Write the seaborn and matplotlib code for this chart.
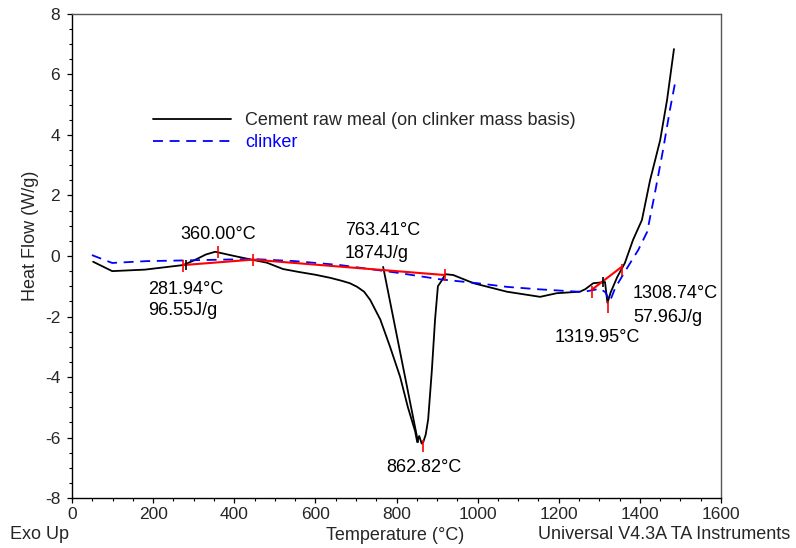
import matplotlib
matplotlib.use("Agg")
import matplotlib.pyplot as plt
from matplotlib.ticker import MultipleLocator
from matplotlib.lines import Line2D
import seaborn as sns
import pandas as pd

# cement raw meal (on clinker mass basis), black curve
raw_T = [52, 99, 180, 274, 300, 330, 353, 400, 446, 480, 520, 560, 600, 636, 665, 685,
         703, 720, 735, 760, 784, 809, 828, 846, 851, 856, 862, 866, 872, 878, 887,
         895, 902, 912, 920, 940, 990, 1072, 1154, 1195, 1252, 1265, 1285, 1300, 1314,
         1320, 1328, 1344, 1363, 1383, 1405, 1425, 1450, 1467, 1484]
raw_H = [-0.19, -0.5, -0.45, -0.3, -0.15, 0.05, 0.14, 0.0, -0.13, -0.22, -0.43, -0.53,
         -0.62, -0.72, -0.82, -0.9, -1.02, -1.18, -1.45, -2.1, -3.0, -4.0, -5.0, -5.8,
         -6.15, -5.95, -6.2, -6.15, -5.9, -5.4, -3.8, -2.1, -1.0, -0.8, -0.6, -0.63,
         -0.9, -1.18, -1.35, -1.23, -1.18, -1.1, -0.9, -0.88, -0.86, -1.55, -1.2, -0.7,
         -0.23, 0.53, 1.19, 2.5, 3.83, 5.16, 6.84]

# clinker, blue dashed curve
clk_T = [49, 99, 183, 300, 446, 550, 661, 800, 907, 1000, 1072, 1150, 1260, 1302,
         1315, 1326, 1339, 1366, 1396, 1418, 1437, 1457, 1474, 1489]
clk_H = [0.03, -0.23, -0.17, -0.14, -0.1, -0.17, -0.3, -0.55, -0.77, -0.9, -1.02,
         -1.1, -1.19, -1.08, -1.2, -1.5, -1.06, -0.45, 0.2, 0.8, 2.08, 3.5, 4.83, 5.88]

# analysis baselines / tangent (TA software overlay)
base1_T = [274, 446, 920]
base1_H = [-0.3, -0.12, -0.63]
base2_T = [1281, 1355]
base2_H = [-1.12, -0.36]
tangent_T = [767, 853]
tangent_H = [-0.36, -6.15]

red_mark_T = [274, 360, 446, 920, 866, 1281, 1355, 1322]
red_mark_H = [-0.33, 0.13, -0.13, -0.64, -6.28, -1.19, -0.45, -1.69]
black_mark_T = [282, 1308]
black_mark_H = [-0.3, -0.85]

annotations = [
    ("360.00°C", 361, 0.56, "center"),
    ("281.94°C", 187, -1.26, "left"),
    ("96.55J/g", 187, -1.95, "left"),
    ("763.41°C", 673, 0.69, "left"),
    ("1874J/g", 673, -0.07, "left"),
    ("862.82°C", 867, -7.14, "center"),
    ("1319.95°C", 1191, -2.84, "left"),
    ("1308.74°C", 1383, -1.39, "left"),
    ("57.96J/g", 1383, -2.18, "left"),
]

sns.set_style("ticks")
plt.rcParams["font.family"] = ["Liberation Sans", "DejaVu Sans"]
plt.rcParams["axes.unicode_minus"] = False

fig = plt.figure(figsize=(7.96, 5.48), dpi=100)
ax = fig.add_axes([0.0905, 0.0912, 0.8153, 0.8833])

raw = pd.DataFrame({"T": raw_T, "H": raw_H})
clk = pd.DataFrame({"T": clk_T, "H": clk_H})

sns.lineplot(data=raw, x="T", y="H", sort=False, estimator=None, color="black",
             lw=1.3, ax=ax)
sns.lineplot(data=clk, x="T", y="H", sort=False, estimator=None, color="#0000ff",
             lw=1.3, linestyle=(0, (5.5, 3.7)), ax=ax)
sns.lineplot(x=tangent_T, y=tangent_H, sort=False, estimator=None, color="black",
             lw=1.3, ax=ax)
sns.lineplot(x=base1_T, y=base1_H, sort=False, estimator=None, color="#ff0000",
             lw=1.5, ax=ax)
sns.lineplot(x=base2_T, y=base2_H, sort=False, estimator=None, color="#ff0000",
             lw=1.5, ax=ax)
ax.plot(red_mark_T, red_mark_H, ls="none", marker="|", ms=8, mew=1.2, color="#ff0000")
ax.plot(black_mark_T, black_mark_H, ls="none", marker="|", ms=7, mew=1.2, color="black")

for txt, t, h, ha in annotations:
    ax.text(t, h, txt, ha=ha, va="baseline", fontsize=13, color="black")

ax.set_xlim(0, 1600)
ax.set_ylim(-8, 8)
ax.xaxis.set_major_locator(MultipleLocator(200))
ax.xaxis.set_minor_locator(MultipleLocator(50))
ax.yaxis.set_major_locator(MultipleLocator(2))
ax.yaxis.set_minor_locator(MultipleLocator(0.5))
ax.tick_params(which="major", length=3.5, width=0.9, color="black", labelsize=12.5)
ax.tick_params(which="minor", length=2.2, width=0.8, color="black")
ax.tick_params(axis="y", which="major", pad=5)
ax.tick_params(axis="x", which="major", pad=3)

for s in ax.spines.values():
    s.set_color("#555555")
    s.set_linewidth(1.0)
ax.spines["left"].set_color("black")
ax.spines["bottom"].set_color("black")

ax.set_xlabel("Temperature (°C)", fontsize=13)
ax.xaxis.set_label_coords(0.498, -0.0764)
ax.xaxis.label.set_va("center")
ax.set_ylabel("Heat Flow (W/g)", fontsize=13)
ax.yaxis.set_label_coords(-0.064, 0.541)
ax.yaxis.label.set_va("center")

fig.text(0.0126, 0.024, "Exo Up", ha="left", va="center", fontsize=13)
fig.text(0.993, 0.024, "Universal V4.3A TA Instruments", ha="right", va="center",
         fontsize=13)

handles = [Line2D([], [], color="black", lw=1.3),
           Line2D([], [], color="#0000ff", lw=1.3, linestyle=(0, (5.5, 3.7)))]
leg = ax.legend(handles, ["Cement raw meal (on clinker mass basis)", "clinker"],
                loc="upper left", bbox_to_anchor=(0.1248, 0.7975), frameon=False,
                fontsize=13, handlelength=4.3, handletextpad=0.8, labelspacing=0.3,
                borderpad=0, borderaxespad=0)
leg.get_texts()[1].set_color("#0000ff")

fig.savefig("out.png", dpi=100)
